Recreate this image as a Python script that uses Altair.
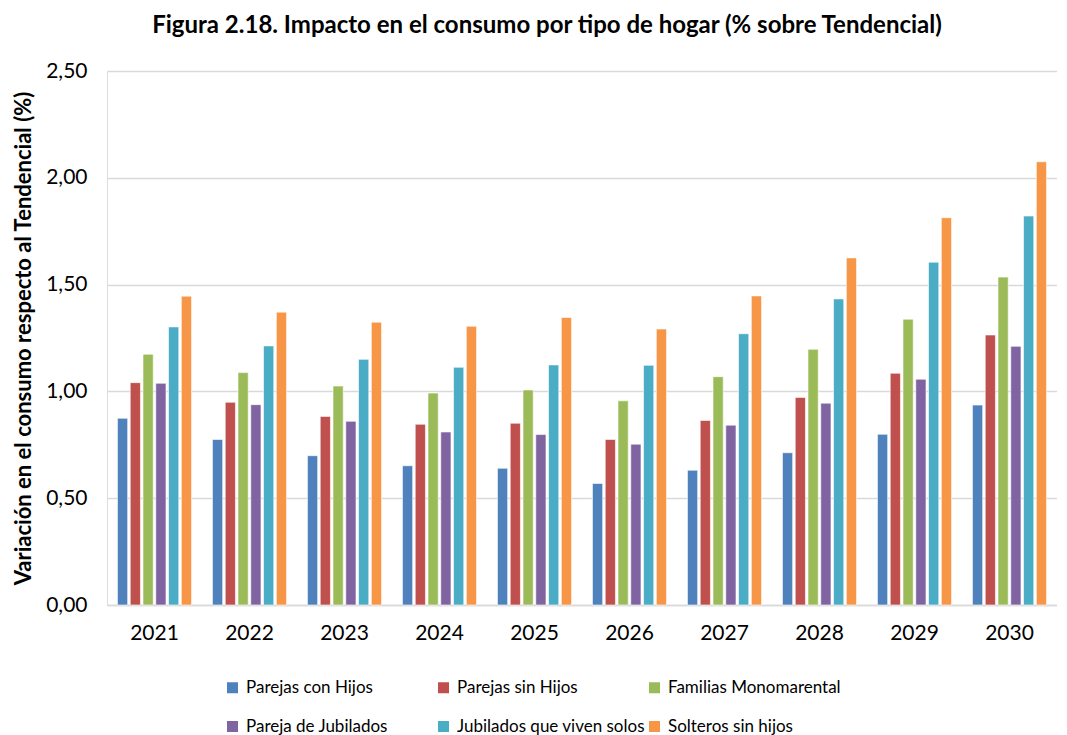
import altair as alt
import pandas as pd

years = ["2021", "2022", "2023", "2024", "2025", "2026", "2027", "2028", "2029", "2030"]
series = ["Parejas con Hijos", "Parejas sin Hijos", "Familias Monomarental",
          "Pareja de Jubilados", "Jubilados que viven solos", "Solteros sin hijos"]
parejas_con_hijos = [0.874, 0.775, 0.699, 0.652, 0.640, 0.569, 0.631, 0.713, 0.799, 0.936]
parejas_sin_hijos = [1.041, 0.949, 0.883, 0.846, 0.851, 0.775, 0.864, 0.972, 1.085, 1.264]
familias_mono = [1.174, 1.088, 1.025, 0.992, 1.007, 0.956, 1.069, 1.197, 1.338, 1.535]
pareja_jubilados = [1.038, 0.938, 0.860, 0.810, 0.798, 0.753, 0.842, 0.945, 1.057, 1.211]
jubilados_solos = [1.302, 1.213, 1.150, 1.113, 1.124, 1.122, 1.270, 1.433, 1.605, 1.821]
solteros = [1.446, 1.371, 1.324, 1.305, 1.346, 1.292, 1.447, 1.625, 1.813, 2.075]
colors = ["#4F81BD", "#C0504D", "#9BBB59", "#8064A2", "#4BACC6", "#F79646"]

values = [parejas_con_hijos, parejas_sin_hijos, familias_mono,
          pareja_jubilados, jubilados_solos, solteros]
rows = []
for s, vals in zip(series, values):
    for y, v in zip(years, vals):
        rows.append({"year": y, "serie": s, "value": v})
df = pd.DataFrame(rows)

FONT = "Lato"

chart = alt.Chart(df).mark_bar(stroke="white", strokeWidth=0.6).encode(
    x=alt.X("year:N", sort=years, title=None,
            scale=alt.Scale(paddingInner=0.22, paddingOuter=0.11),
            axis=alt.Axis(labelAngle=0, labelFontSize=21, labelFont=FONT,
                          labelColor="#000000", ticks=False, domainColor="#D9D9D9",
                          domainWidth=1.5, labelPadding=17)),
    xOffset=alt.XOffset("serie:N", sort=series,
                        scale=alt.Scale(paddingInner=0.2)),
    y=alt.Y("value:Q",
            scale=alt.Scale(domain=[0, 2.5], nice=False),
            title="Variación en el consumo respecto al Tendencial (%)",
            axis=alt.Axis(values=[0, 0.5, 1.0, 1.5, 2.0, 2.5],
                          labelExpr="replace(format(datum.value, '.2f'), '.', ',')",
                          labelFontSize=21, labelFont=FONT, labelColor="#000000",
                          ticks=False, domain=False, labelPadding=20,
                          gridColor="#D9D9D9", gridWidth=1.5,
                          titleFont=FONT, titleFontSize=22, titleFontWeight="bold",
                          titleColor="#000000", titlePadding=10)),
    color=alt.Color("serie:N", sort=series,
                    scale=alt.Scale(domain=series, range=colors),
                    legend=alt.Legend(title=None, orient="none", legendX=117, legendY=608,
                                      direction="horizontal", columns=3,
                                      gridAlign="all", columnPadding=1, rowPadding=21,
                                      symbolType="square", symbolSize=121,
                                      symbolStrokeWidth=0, labelFont=FONT,
                                      labelFontSize=17, labelColor="#000000",
                                      labelOffset=5, labelLimit=300)),
).properties(
    width=950,
    height=534,
    title=alt.TitleParams(
        "Figura 2.18. Impacto en el consumo por tipo de hogar (% sobre Tendencial)",
        font=FONT, fontSize=24, fontWeight="bold", color="#000000",
        anchor="middle", offset=22, dx=-35),
).configure_view(stroke=None).configure(padding={"left": 4, "top": 6, "right": 0, "bottom": 0})

chart.save("out.html", embed_options={"renderer": "svg", "actions": False})
